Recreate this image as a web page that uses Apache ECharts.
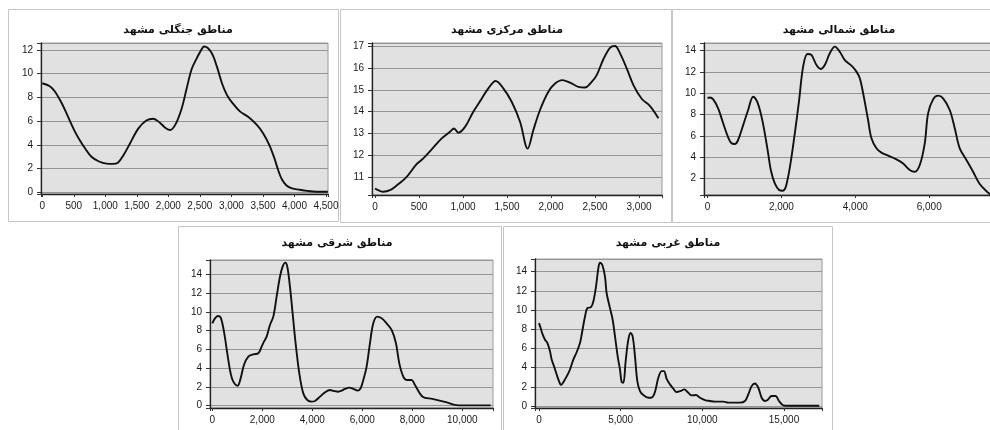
<!DOCTYPE html>
<html>
<head>
<meta charset="utf-8">
<script src="https://cdn.jsdelivr.net/npm/echarts@6/dist/echarts.min.js"></script>
<style>
html,body{margin:0;padding:0;background:#fff;}
#c{width:990px;height:430px;}
</style>
</head>
<body>
<div id="c"></div>
<script>
// ---- titles ----
const titles = ['مناطق جنگلی مشهد', 'مناطق مرکزی مشهد', 'مناطق شمالی مشهد', 'مناطق شرقی مشهد', 'مناطق غربی مشهد'];

// ---- series data: [x, density] ----
const forestData = [[0,9.2],[120,8.95],[200,8.5],[280,7.8],[360,6.95],[440,6.0],[520,5.1],[600,4.35],[680,3.7],[780,3.0],[900,2.6],[1020,2.42],[1120,2.4],[1200,2.5],[1290,3.15],[1390,4.1],[1520,5.35],[1650,6.05],[1760,6.2],[1870,5.85],[1950,5.45],[2030,5.25],[2115,5.75],[2210,7.05],[2290,8.75],[2370,10.4],[2450,11.3],[2500,11.8],[2570,12.3],[2680,11.8],[2770,10.6],[2850,9.2],[2930,8.2],[3000,7.65],[3130,6.85],[3270,6.35],[3400,5.7],[3500,5.0],[3600,4.0],[3680,2.9],[3740,1.9],[3800,1.1],[3870,0.6],[3950,0.35],[4050,0.25],[4200,0.12],[4350,0.05],[4530,0.05]];

const centralData = [[0,10.46],[95,10.31],[170,10.38],[246,10.6],[360,11.0],[473,11.58],[549,11.85],[644,12.26],[758,12.77],[852,13.08],[898,13.23],[947,13.03],[1023,13.3],[1117,14.0],[1212,14.6],[1288,15.08],[1371,15.42],[1458,15.08],[1553,14.46],[1648,13.54],[1735,12.3],[1799,13.15],[1875,14.08],[1970,14.92],[2046,15.3],[2129,15.46],[2216,15.34],[2311,15.15],[2386,15.12],[2462,15.38],[2519,15.69],[2595,16.42],[2670,16.95],[2727,17.03],[2784,16.69],[2860,16.0],[2936,15.23],[3030,14.6],[3125,14.26],[3220,13.7]];

const northData = [[0,9.55],[63,9.6],[154,9.42],[288,8.58],[424,7.17],[559,5.85],[649,5.29],[739,5.22],[829,5.6],[965,7.0],[1100,8.42],[1236,9.67],[1344,9.2],[1461,7.8],[1551,6.23],[1641,4.35],[1713,2.78],[1821,1.52],[1939,0.9],[2030,0.83],[2120,1.21],[2246,3.4],[2363,6.23],[2480,9.36],[2588,12.5],[2705,13.69],[2813,13.6],[2949,12.65],[3066,12.28],[3174,12.65],[3310,13.75],[3445,14.38],[3580,13.9],[3716,13.12],[3897,12.59],[4031,12.03],[4122,11.4],[4230,9.67],[4346,7.48],[4437,5.76],[4572,4.82],[4707,4.41],[4888,4.13],[5114,3.78],[5294,3.4],[5474,2.78],[5609,2.62],[5745,3.25],[5880,5.29],[5970,8.1],[6106,9.42],[6240,9.77],[6376,9.52],[6556,8.42],[6692,6.7],[6827,4.82],[7007,3.72],[7188,2.62],[7368,1.46],[7593,0.65],[7700,0.35]];

const eastData = [[0,8.78],[107,9.31],[220,9.56],[333,9.42],[467,7.89],[600,5.58],[733,3.45],[840,2.56],[1013,2.13],[1133,2.91],[1266,4.34],[1440,5.22],[1640,5.47],[1840,5.58],[1973,6.29],[2066,6.82],[2173,7.36],[2306,8.6],[2440,9.49],[2573,11.62],[2706,13.75],[2813,14.82],[2920,15.25],[3000,14.82],[3106,12.69],[3213,9.84],[3333,6.65],[3480,3.45],[3640,1.31],[3800,0.6],[3973,0.43],[4106,0.5],[4306,0.96],[4506,1.42],[4706,1.67],[4866,1.56],[5040,1.49],[5173,1.6],[5306,1.78],[5480,1.92],[5640,1.78],[5813,1.6],[5933,1.85],[6040,2.74],[6173,4.16],[6306,6.65],[6440,8.78],[6600,9.49],[6773,9.31],[6973,8.78],[7173,8.07],[7346,6.65],[7480,4.51],[7640,3.09],[7773,2.74],[7973,2.74],[8106,2.2],[8413,0.96],[8800,0.72],[9300,0.4],[9850,0.03],[10500,0.03],[11133,0.03]];

const westData = [[0,8.64],[102,8.12],[204,7.54],[367,6.91],[510,6.57],[673,5.7],[776,4.84],[918,4.15],[1082,3.28],[1225,2.59],[1347,2.18],[1531,2.59],[1735,3.21],[1898,3.8],[2102,4.84],[2306,5.6],[2510,6.57],[2612,7.43],[2817,9.33],[2959,10.2],[3184,10.3],[3327,10.89],[3490,12.44],[3633,14.35],[3735,14.93],[3878,14.69],[4041,13.48],[4143,11.75],[4347,10.2],[4511,8.99],[4654,7.26],[4817,5.18],[4960,3.8],[5061,2.49],[5164,2.42],[5307,4.67],[5470,6.91],[5613,7.6],[5735,7.26],[5878,5.18],[6021,2.59],[6184,1.56],[6388,1.14],[6694,0.86],[6837,0.86],[7000,1.04],[7143,1.73],[7307,2.94],[7511,3.63],[7654,3.63],[7817,2.83],[8021,2.25],[8225,1.8],[8429,1.45],[8674,1.56],[8899,1.73],[9144,1.38],[9348,1.11],[9613,1.14],[9858,0.86],[10164,0.62],[10470,0.52],[10776,0.45],[11287,0.45],[11593,0.35],[12307,0.35],[12613,0.52],[12817,1.21],[13021,2.07],[13225,2.35],[13430,1.9],[13634,0.86],[13838,0.52],[14001,0.62],[14246,1.04],[14491,1.04],[14695,0.52],[14961,0.07],[15300,0.02],[17160,0.02]];

// ---- tick steps ----
const xSteps = [500, 500, 2000, 2000, 5000];
const ySteps = [2, 1, 2, 2, 2];

const seriesData = [forestData, centralData, northData, eastData, westData];

// ---- layout (px) ----
const grids = [
  {left: 41, top: 43, width: 287, height: 151},
  {left: 372, top: 43, width: 290, height: 152},
  {left: 704, top: 43, width: 288, height: 152},
  {left: 210, top: 260, width: 283, height: 148},
  {left: 535, top: 259, width: 287, height: 149}
];
const xExt = [[-20, 4532, 8], [-34, 3261, 6], [-95, 7700, 4], [-92, 11228, 6], [-245, 17330, 4]];
const yExt = [[-0.14, 12.59, 6], [10.16, 17.17, 7], [0.43, 14.72, 7], [-0.25, 15.53, 7], [-0.21, 15.32, 7]];
const panels = [
  {x: 8, y: 9, w: 330, h: 212, tx: 178, ty: 30},
  {x: 340, y: 9, w: 331, h: 213, tx: 507, ty: 30},
  {x: 672, y: 9, w: 331, h: 213, tx: 839, ty: 30},
  {x: 178, y: 226, w: 323, h: 220, tx: 337, ty: 243},
  {x: 503, y: 226, w: 329, h: 220, tx: 668, ty: 243}
];

function fmt(step) {
  return function (v) {
    const r = v / step;
    if (Math.abs(r - Math.round(r)) > 1e-6) return '';
    return Math.round(v).toLocaleString('en-US');
  };
}

const labelFont = {fontFamily: '"Liberation Sans", Arial, sans-serif', fontSize: 10, color: '#1a1a1a'};

const option = {
  animation: false,
  backgroundColor: '#ffffff',
  grid: grids.map(g => Object.assign({show: true, backgroundColor: '#e1e1e1', borderColor: '#9a9a9a', borderWidth: 1, containLabel: false, outerBoundsMode: 'none'}, g)),
  xAxis: grids.map((g, i) => ({
    type: 'value', gridIndex: i,
    min: xExt[i][0], max: xExt[i][1], splitNumber: xExt[i][2],
    axisLine: {show: true, onZero: false, lineStyle: {color: '#222', width: 1.3}},
    axisTick: {show: true, length: 3, lineStyle: {color: '#333'}},
    axisLabel: Object.assign({margin: 7, formatter: fmt(xSteps[i]), showMinLabel: true, showMaxLabel: true}, labelFont),
    splitLine: {show: false}
  })),
  yAxis: grids.map((g, i) => ({
    type: 'value', gridIndex: i,
    min: yExt[i][0], max: yExt[i][1], splitNumber: yExt[i][2],
    axisLine: {show: true, onZero: false, lineStyle: {color: '#222', width: 1.3}},
    axisTick: {show: true, length: 4, lineStyle: {color: '#333'}},
    axisLabel: Object.assign({margin: 8, formatter: fmt(ySteps[i])}, labelFont),
    splitLine: {show: true, lineStyle: {color: '#959595', width: 1}}
  })),
  series: seriesData.map((d, i) => ({
    type: 'line', xAxisIndex: i, yAxisIndex: i, data: d,
    showSymbol: false, smooth: 0.35,
    lineStyle: {color: '#111', width: 1.9}
  })),
  graphic: panels.map((p, i) => ({
    type: 'group', silent: true,
    children: [
      {type: 'rect', shape: {x: p.x + 0.5, y: p.y + 0.5, width: p.w, height: p.h}, style: {fill: null, stroke: '#c6c6c6', lineWidth: 1}},
      {type: 'text', x: p.tx, y: p.ty, style: {text: titles[i], fill: '#111', font: 'bold 11px "DejaVu Sans", sans-serif', textAlign: 'center', textVerticalAlign: 'middle'}}
    ]
  }))
};

const chart = echarts.init(document.getElementById('c'), null, {renderer: 'canvas'});
chart.setOption(option);
</script>
</body>
</html>
